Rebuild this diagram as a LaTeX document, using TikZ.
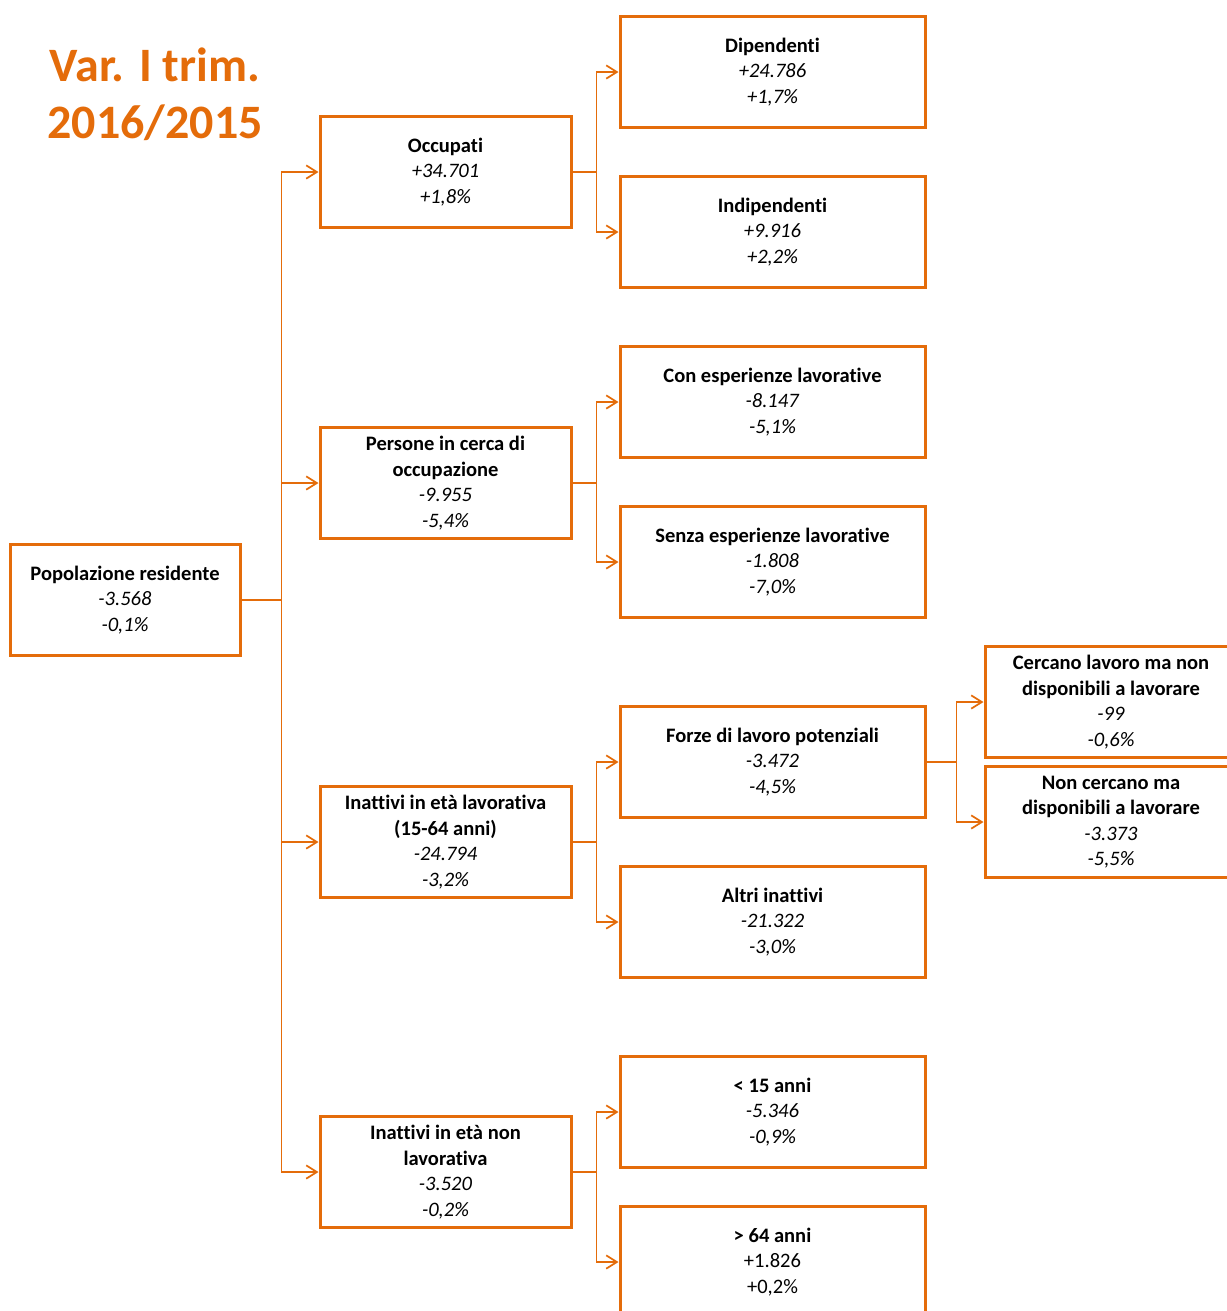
\documentclass[tikz,border=0pt]{standalone}
\usepackage{fontspec}
\setmainfont{Carlito}[Ligatures=NoCommon]
\usepackage{xcolor}
\usepackage{tikz}
\usetikzlibrary{arrows.meta}

\definecolor{istat}{RGB}{228,108,10}

\begin{document}
\begin{tikzpicture}[
		x=0.75pt, y=-0.75pt,
		box/.style={
			draw=istat,
			line width=2.25pt,
			fill=white,
			align=center,
			inner sep=0pt,
			minimum height=83.25pt,
			font=\fontsize{15.4}{19.1}\selectfont
			},
		root/.style={box, minimum width=172.5pt},
		lvtwo/.style={box, minimum width=188.25pt},
		lvthree/.style={box, minimum width=228.75pt},
		lvfour/.style={box, minimum width=189pt},
		link/.style={
			draw=istat,
			line width=1.3pt,
			-{Straight Barb[length=8pt,width=10pt,line width=1.3pt]}
			}
		]

		\useasboundingbox (0,0) rectangle (1227,1311);
		\clip (0,0) rectangle (1227,1311);

		% titolo
		\node[text=istat, align=center, font=\bfseries\fontsize{36}{42.75}\selectfont] (title) at (155,94) {Var. I trim.\\2016/2015};

		% radice
		\node[root] (pop) at (125,600) {\textbf{Popolazione residente}\\\textit{-3.568}\\\textit{-0,1\%}};

		% secondo livello
		\node[lvtwo] (occ) at (445.5,172) {\textbf{Occupati}\\\textit{+34.701}\\\textit{+1,8\%}};
		\node[lvtwo] (cerca) at (445.5,483) {\textbf{Persone in cerca di}\\\textbf{occupazione}\\\textit{-9.955}\\\textit{-5,4\%}};
		\node[lvtwo] (inatt) at (445.5,842) {\textbf{Inattivi in età lavorativa}\\\textbf{(15-64 anni)}\\\textit{-24.794}\\\textit{-3,2\%}};
		\node[lvtwo] (inattnl) at (445.5,1172) {\textbf{Inattivi in età non}\\\textbf{lavorativa}\\\textit{-3.520}\\\textit{-0,2\%}};

		% terzo livello
		\node[lvthree] (dip) at (772.5,72) {\textbf{Dipendenti}\\\textit{+24.786}\\\textit{+1,7\%}};
		\node[lvthree] (indip) at (772.5,232) {\textbf{Indipendenti}\\\textit{+9.916}\\\textit{+2,2\%}};
		\node[lvthree] (conesp) at (772.5,402) {\textbf{Con esperienze lavorative}\\\textit{-8.147}\\\textit{-5,1\%}};
		\node[lvthree] (senzaesp) at (772.5,562) {\textbf{Senza esperienze lavorative}\\\textit{-1.808}\\\textit{-7,0\%}};
		\node[lvthree] (forze) at (772.5,762) {\textbf{Forze di lavoro potenziali}\\\textit{-3.472}\\\textit{-4,5\%}};
		\node[lvthree] (altri) at (772.5,922) {\textbf{Altri inattivi}\\\textit{-21.322}\\\textit{-3,0\%}};
		\node[lvthree] (meno15) at (772.5,1112) {\textbf{< 15 anni}\\\textit{-5.346}\\\textit{-0,9\%}};
		\node[lvthree] (oltre64) at (772.5,1262) {\textbf{> 64 anni}\\+1.826\\+0,2\%};

		% quarto livello
		\node[lvfour] (cercano) at (1111,702) {\textbf{Cercano lavoro ma non}\\\textbf{disponibili a lavorare}\\\textit{-99}\\\textit{-0,6\%}};
		\node[lvfour] (noncercano) at (1111,822) {\textbf{Non cercano ma}\\\textbf{disponibili a lavorare}\\\textit{-3.373}\\\textit{-5,5\%}};

		% collegamenti
		\foreach \n in {occ,cerca,inatt,inattnl}
			\draw[link] (pop.east) -- ++(40,0) |- (\n.west);
		\foreach \n in {dip,indip}
			\draw[link] (occ.east) -- ++(24,0) |- (\n.west);
		\foreach \n in {conesp,senzaesp}
			\draw[link] (cerca.east) -- ++(24,0) |- (\n.west);
		\foreach \n in {forze,altri}
			\draw[link] (inatt.east) -- ++(24,0) |- (\n.west);
		\foreach \n in {meno15,oltre64}
			\draw[link] (inattnl.east) -- ++(24,0) |- (\n.west);
		\foreach \n in {cercano,noncercano}
			\draw[link] (forze.east) -- ++(30,0) |- (\n.west);

	\end{tikzpicture}
\end{document}
